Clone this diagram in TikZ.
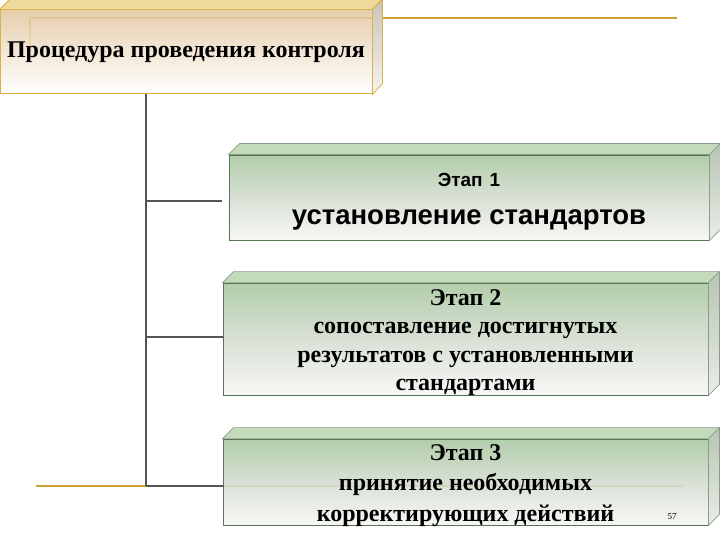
\documentclass[tikz,border=0pt]{standalone}
\usepackage{fontspec}
\setmainfont{Liberation Serif}
\setsansfont{Liberation Sans}
\usetikzlibrary{calc}
\definecolor{gold}{HTML}{C9A233}
\definecolor{goldedge}{HTML}{D6B445}
\definecolor{tanTop}{HTML}{E2C6A0}
\definecolor{tanFace}{HTML}{EFDA9E}
\definecolor{tanSide}{HTML}{CCC2BA}
\definecolor{grnTop}{HTML}{A7C79E}
\definecolor{grnMid}{HTML}{D3DCCF}
\definecolor{grnBot}{HTML}{F6F6F4}
\definecolor{grnEdge}{HTML}{557555}
\definecolor{grnFace}{HTML}{C3DBBB}
\definecolor{grnSide}{HTML}{B7C4B3}
\definecolor{conncol}{HTML}{555555}
\begin{document}
\begin{tikzpicture}[x=1pt,y=-1pt,
  headbox/.style={rectangle, draw=goldedge, line width=1pt, inner sep=0pt,
    top color=tanTop, bottom color=white, fill opacity=0.85, text opacity=1,
    font=\fontsize{24}{28}\selectfont\bfseries},
  stagebox/.style={rectangle, draw=grnEdge, line width=0.9pt, inner sep=0pt,
    top color=grnTop, bottom color=grnBot, middle color=grnMid, fill opacity=0.88, text opacity=1,
    align=center},
  stagetext/.style={inner sep=0pt, align=center, font=\fontsize{24}{28.5}\selectfont\bfseries},
  conn/.style={draw=conncol, line width=2pt},
  deco/.style={draw=gold, line width=2.2pt},
]
\useasboundingbox (0,0) rectangle (720,540);

% decorative slide lines
\draw[deco] (30,18) -- (677,18);
\draw[deco] (30,18) -- (30,48);
\draw[deco] (36,486) -- (683,486);

% head box
\node[headbox, minimum width=372pt, minimum height=84pt] (b0) at (186,52) {\raisebox{-7pt}{Процедура проведения контроля}};
\fill[tanFace, draw=goldedge, line width=0.8pt] (b0.north west) -- ++(10,-10) -- ++(372,0) -- (b0.north east) -- cycle;
\shade[top color=tanSide, bottom color=white!80!tanSide, draw=goldedge, line width=0.8pt] (b0.north east) -- ++(10,-10) -- ++(0,84) -- (b0.south east) -- cycle;

% stage boxes
\node[stagebox, minimum width=480pt, minimum height=85pt] (b1) at (469,197.5)
  {\rule{0pt}{21pt}\fontsize{19}{20}\selectfont\sffamily\bfseries Этап\hspace{7pt}1\\[22pt]
   \fontsize{27.5}{28}\selectfont\sffamily\bfseries установление стандартов};
\node[stagebox, minimum width=485pt, minimum height=112pt] (b2) at (465.5,339) {};
\node[stagetext] (t2) at (465.5,342.5)
  {Этап 2\\сопоставление достигнутых\\результатов с установленными\\стандартами};
\node[stagebox, minimum width=485pt, minimum height=86pt] (b3) at (465.5,482) {};
\node[stagetext] (t3) at (465.5,486)
  {Этап 3\\[1pt]принятие необходимых\\[3pt]корректирующих действий};

\foreach \b in {b1,b2,b3}{
  \fill[grnFace, draw=grnEdge!70, line width=0.6pt] (\b.north west) -- ++(11,-11) -- ($(\b.north east)+(11,-11)$) -- (\b.north east) -- cycle;
  \shade[top color=grnSide, bottom color=white!70!grnSide, draw=grnEdge!70, line width=0.6pt] (\b.north east) -- ++(11,-11) -- ($(\b.south east)+(11,-11)$) -- (\b.south east) -- cycle;
}

\node[font=\fontsize{9}{10}\selectfont] (pg) at (672,517) {57};

% connectors
\coordinate (trunk) at (146,94);
\coordinate (j3) at (146,486);
\draw[conn] (trunk) -- (j3);
\draw[conn, shorten >=7pt] (trunk |- 0,201) -- (b1.west |- 0,201);
\draw[conn] (trunk |- 0,337) -- (b2.west |- 0,337);
\draw[conn] (j3) -- (b3.west |- j3);
\end{tikzpicture}
\end{document}
